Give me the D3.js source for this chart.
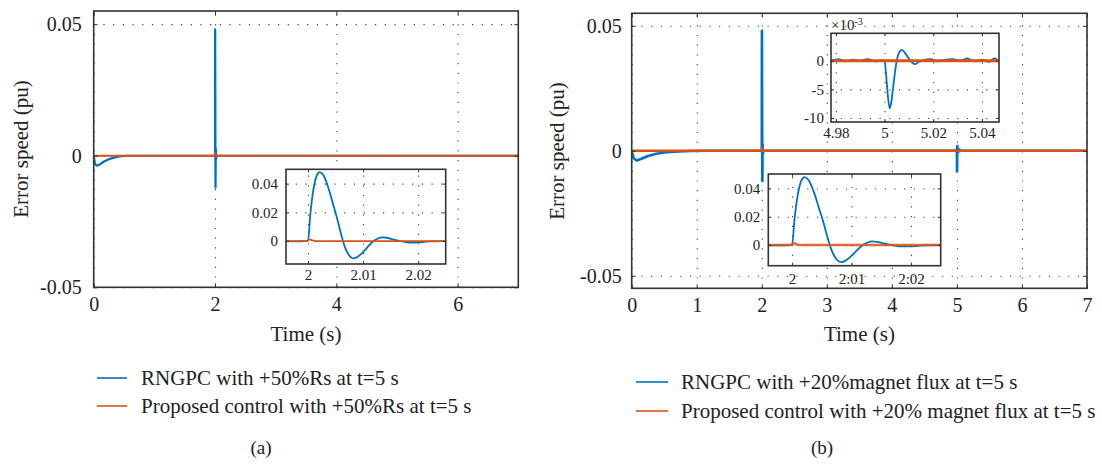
<!DOCTYPE html>
<html>
<head>
<meta charset="utf-8">
<script src="https://cdn.jsdelivr.net/npm/d3@7"></script>
<style>
  body { margin: 0; background: #fff; }
  svg { display: block; }
  svg text { font-family: "Liberation Serif", "DejaVu Serif", "Noto Serif", serif; }
</style>
</head>
<body>
<script>
// ---- data ----
const blue = '#0072BD';
const orange = '#D95319';
const serif = '"Liberation Serif", "DejaVu Serif", "Noto Serif", serif';

// start-up transient (pu)
const startTimeA = [0, 0.02, 0.05, 0.1, 0.17, 0.25, 0.32, 0.42, 0.54, 1.0];
const startRngpcA = [0, -0.003, -0.0038, -0.0033, -0.0022, -0.0013, -0.0008, -0.0003, 0, 0];
const startTimeB = [0, 0.03, 0.077, 0.15, 0.25, 0.38, 0.5, 0.64, 0.9, 1.2];
const startRngpcB = [0, -0.003, -0.0039, -0.0032, -0.0021, -0.0012, -0.0007, -0.0004, -0.0001, 0];

// load step at t = 2 s (pu), same in both panels
const stepTime = [1.996, 1.998, 1.9995, 2.0, 2.0004, 2.001, 2.0016, 2.0021, 2.0028, 2.0037, 2.0046, 2.0053,
  2.0059, 2.0065, 2.0071, 2.0077, 2.0083, 2.009, 2.0098, 2.0107, 2.0116, 2.0125, 2.0134, 2.0143,
  2.0152, 2.0161, 2.017, 2.0185, 2.0197, 2.0209, 2.0222, 2.025];
const stepRngpc = [0, -0.0003, 0, 0, 0.018, 0.0365, 0.0458, 0.048, 0.0458, 0.037, 0.025, 0.0156,
  0.0063, -0.002, -0.0077, -0.011, -0.0121, -0.011, -0.0084, -0.0047, -0.001, 0.0014, 0.0026, 0.0023,
  0.0014, 0.0005, -0.0002, -0.001, -0.001, -0.0007, -0.0002, 0];
const stepPropTime = [1.996, 1.9998, 2.0003, 2.0008, 2.0015, 2.025];
const stepProp = [0, 0, 0.0012, 0.0004, 0, 0];

// magnet flux change at t = 5 s (x 1e-3 pu)
const fluxTime = [4.978, 4.981, 4.984, 4.987, 4.99, 4.993, 4.996, 4.999, 5.0, 5.0007, 5.0014, 5.0021,
  5.0027, 5.0037, 5.0048, 5.0058, 5.0071, 5.0085, 5.0105, 5.0126, 5.014, 5.016, 5.019, 5.022,
  5.025, 5.028, 5.031, 5.034, 5.037, 5.04, 5.043, 5.045, 5.047];
const fluxRngpc = [0, 0.3, -0.1, 0.2, 0, 0.3, -0.1, 0.1, 0, -2.8, -6.3, -8.3,
  -7.4, -4, -0.5, 1.3, 1.9, 1.3, 0.1, -0.6, -0.2, 0.1, 0.3, -0.1,
  0.2, 0.3, 0, 0.4, -0.1, 0.2, -0.2, 0.4, 0];
const fluxPropTime = [4.978, 5.047];
const fluxProp = [0, 0];

// ticks
const mainXTicksA = [0, 2, 4, 6];
const mainXTicksB = [0, 1, 2, 3, 4, 5, 6, 7];
const mainYTicks = [-0.05, 0, 0.05];
const mainYLabels = ['-0.05', '0', '0.05'];
const stepXTicks = [2, 2.01, 2.02];
const stepXLabelsA = ['2', '2.01', '2.02'];
const stepXLabelsB = ['2', '2:01', '2:02'];
const stepYTicks = [0, 0.02, 0.04];
const stepYLabels = ['0', '0.02', '0.04'];
const fluxXTicks = [4.98, 5, 5.02, 5.04];
const fluxXLabels = ['4.98', '5', '5.02', '5.04'];
const fluxYTicks = [-10, -5, 0];
const fluxYLabels = ['-10', '-5', '0'];

const legendA = ['RNGPC with +50%Rs at t=5 s', 'Proposed control with +50%Rs at t=5 s'];
const legendB = ['RNGPC with +20%magnet flux at t=5 s', 'Proposed control with +20% magnet flux at t=5 s'];

const zip = (t, v, k = 1) => t.map((d, i) => [d, v[i] * k]);

const blueA = [...zip(startTimeA, startRngpcA), ...zip(stepTime, stepRngpc), [7, 0]];
const orangeA = [[0, 0], ...zip(stepPropTime, stepProp), [7, 0]];
const blueB = [...zip(startTimeB, startRngpcB), ...zip(stepTime, stepRngpc),
  ...zip(fluxTime, fluxRngpc, 1e-3), [7, 0]];
const orangeB = [[0, 0], ...zip(stepPropTime, stepProp), [7, 0]];

const svg = d3.select('body').append('svg')
  .attr('width', 1102)
  .attr('height', 464);

let clipCount = 0;

function drawAxes(c) {
  const g = svg.append('g');
  const w = c.right - c.left, h = c.bottom - c.top;
  const x = d3.scaleLinear().domain(c.xDomain).range([c.left, c.right]);
  const y = d3.scaleLinear().domain(c.yDomain).range([c.bottom, c.top]);

  g.append('rect')
    .attr('x', c.left).attr('y', c.top)
    .attr('width', w).attr('height', h)
    .attr('fill', '#fff');

  // dotted grid
  const gx = g.append('g')
    .attr('transform', `translate(0,${c.bottom})`)
    .call(d3.axisBottom(x).tickValues(c.xTicks).tickSize(-h).tickFormat(''));
  const gy = g.append('g')
    .attr('transform', `translate(${c.left},0)`)
    .call(d3.axisLeft(y).tickValues(c.yTicks).tickSize(-w).tickFormat(''));
  [gx, gy].forEach(a => {
    a.select('.domain').remove();
    a.selectAll('line')
      .attr('stroke', '#444')
      .attr('stroke-width', 1.1)
      .attr('stroke-dasharray', '1.2,8.5');
  });

  // series
  const id = 'clip' + (clipCount++);
  g.append('clipPath').attr('id', id)
    .append('rect')
    .attr('x', c.left).attr('y', c.top)
    .attr('width', w).attr('height', h);

  const line = d3.line()
    .x(d => x(d[0]))
    .y(d => y(d[1]))
    .curve(c.curve || d3.curveLinear);

  c.series.forEach(s => {
    g.append('path')
      .datum(s.data)
      .attr('clip-path', `url(#${id})`)
      .attr('fill', 'none')
      .attr('stroke', s.color)
      .attr('stroke-opacity', s.opacity || 1)
      .attr('stroke-width', s.width)
      .attr('stroke-linejoin', 'round')
      .attr('d', line);
  });

  // inward ticks on all four sides + labels
  const tl = c.tickLen;
  const bottomAx = g.append('g')
    .attr('transform', `translate(0,${c.bottom})`)
    .call(d3.axisBottom(x).tickValues(c.xTicks).tickSize(-tl).tickPadding(c.xPad)
      .tickFormat((d, i) => c.xLabels[i]));
  const topAx = g.append('g')
    .attr('transform', `translate(0,${c.top})`)
    .call(d3.axisTop(x).tickValues(c.xTicks).tickSize(-tl).tickFormat(''));
  const leftAx = g.append('g')
    .attr('transform', `translate(${c.left},0)`)
    .call(d3.axisLeft(y).tickValues(c.yTicks).tickSize(-tl).tickPadding(c.yPad)
      .tickFormat((d, i) => c.yLabels[i]));
  const rightAx = g.append('g')
    .attr('transform', `translate(${c.right},0)`)
    .call(d3.axisRight(y).tickValues(c.yTicks).tickSize(-tl).tickFormat(''));

  [bottomAx, topAx, leftAx, rightAx].forEach(a => {
    a.select('.domain').remove();
    a.attr('font-family', serif).attr('font-size', c.fontSize);
    a.selectAll('line').attr('stroke', '#333').attr('stroke-width', 1);
    a.selectAll('text').attr('fill', '#222');
  });

  g.append('rect')
    .attr('x', c.left).attr('y', c.top)
    .attr('width', w).attr('height', h)
    .attr('fill', 'none')
    .attr('stroke', '#333')
    .attr('stroke-width', 1.6);

  return g;
}

// ---------- panel (a) ----------
drawAxes({
  left: 93.7, right: 518.3, top: 11, bottom: 287.3,
  xDomain: [0, 7], yDomain: [-0.05, 0.055],
  xTicks: mainXTicksA, xLabels: mainXTicksA.map(String),
  yTicks: mainYTicks, yLabels: mainYLabels,
  tickLen: 4, xPad: 10, yPad: 12, fontSize: 20,
  series: [
    { data: blueA, color: blue, width: 2.2 },
    { data: orangeA, color: orange, width: 1.8 }
  ]
});

drawAxes({
  left: 286, right: 445.7, top: 169.3, bottom: 264,
  xDomain: [1.996, 2.025], yDomain: [-0.016, 0.05],
  xTicks: stepXTicks, xLabels: stepXLabelsA,
  yTicks: stepYTicks, yLabels: stepYLabels,
  tickLen: 3, xPad: 5, yPad: 8, fontSize: 15,
  curve: d3.curveMonotoneX,
  series: [
    { data: zip(stepTime, stepRngpc), color: blue, width: 1.8 },
    { data: zip(stepPropTime, stepProp), color: orange, width: 1.8 }
  ]
});

// ---------- panel (b) ----------
drawAxes({
  left: 631.7, right: 1087, top: 13.3, bottom: 288.3,
  xDomain: [0, 7], yDomain: [-0.055, 0.055],
  xTicks: mainXTicksB, xLabels: mainXTicksB.map(String),
  yTicks: mainYTicks, yLabels: mainYLabels,
  tickLen: 4, xPad: 10, yPad: 10, fontSize: 20,
  series: [
    { data: blueB, color: blue, width: 2.6 },
    { data: orangeB, color: orange, width: 2.6 }
  ]
});

drawAxes({
  left: 831, right: 999, top: 33.3, bottom: 122,
  xDomain: [4.978, 5.047], yDomain: [-10.7, 4.8],
  xTicks: fluxXTicks, xLabels: fluxXLabels,
  yTicks: fluxYTicks, yLabels: fluxYLabels,
  tickLen: 3, xPad: 5, yPad: 7, fontSize: 15,
  curve: d3.curveMonotoneX,
  series: [
    { data: zip(fluxTime, fluxRngpc), color: blue, width: 1.8 },
    { data: zip(fluxPropTime, fluxProp), color: orange, width: 3 }
  ]
});

const expo = svg.append('text')
  .attr('x', 831).attr('y', 30)
  .attr('font-size', 15)
  .attr('fill', '#222')
  .text('×10');
expo.append('tspan')
  .attr('dy', -5)
  .attr('font-size', 10)
  .text('-3');

drawAxes({
  left: 768.3, right: 940.7, top: 174, bottom: 265.7,
  xDomain: [1.996, 2.025], yDomain: [-0.0146, 0.0502],
  xTicks: stepXTicks, xLabels: stepXLabelsB,
  yTicks: stepYTicks, yLabels: stepYLabels,
  tickLen: 3, xPad: 8, yPad: 8, fontSize: 15,
  curve: d3.curveMonotoneX,
  series: [
    { data: zip(stepTime, stepRngpc), color: blue, width: 1.8 },
    { data: zip(stepPropTime, stepProp), color: orange, width: 2.6, opacity: 0.85 }
  ]
});

// ---------- axis titles ----------
[[306, 21], [859.4, 557]].forEach(([cx, ly], i) => {
  svg.append('text')
    .attr('x', cx).attr('y', 341)
    .attr('text-anchor', 'middle')
    .attr('font-size', 21)
    .attr('fill', '#222')
    .text('Time (s)');
  svg.append('text')
    .attr('transform', `translate(${ly + 7},${i === 0 ? 149 : 151}) rotate(-90)`)
    .attr('text-anchor', 'middle')
    .attr('font-size', 21)
    .attr('fill', '#222')
    .text('Error speed (pu)');
});

// ---------- legends ----------
function legend(items, x0, lineLen, textX, ys) {
  const g = svg.append('g');
  items.forEach((t, i) => {
    g.append('line')
      .attr('x1', x0).attr('x2', x0 + lineLen)
      .attr('y1', ys[i]).attr('y2', ys[i])
      .attr('stroke', i === 0 ? blue : orange)
      .attr('stroke-width', 1.6);
    g.append('text')
      .attr('x', textX).attr('y', ys[i] + 7)
      .attr('font-size', 21)
      .attr('fill', '#222')
      .text(t);
  });
}
legend(legendA, 97, 30, 141, [378, 406]);
legend(legendB, 636, 32, 681, [382, 411]);

svg.append('text').attr('x', 261).attr('y', 454)
  .attr('text-anchor', 'middle').attr('font-size', 19).attr('fill', '#222').text('(a)');
svg.append('text').attr('x', 822).attr('y', 454)
  .attr('text-anchor', 'middle').attr('font-size', 19).attr('fill', '#222').text('(b)');
</script>
</body>
</html>
